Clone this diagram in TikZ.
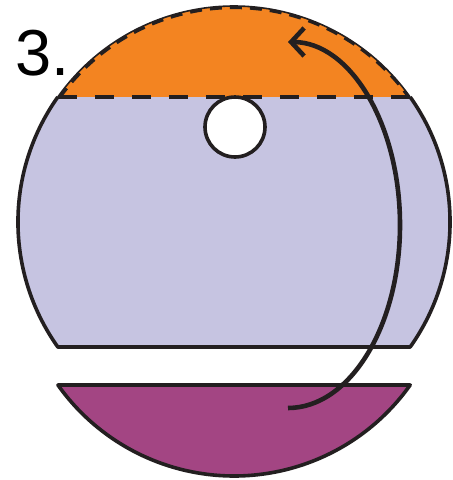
\documentclass[tikz,border=0pt]{standalone}
\usepackage{fontspec}
\newfontfamily\labelfont{Liberation Sans}
\usetikzlibrary{arrows.meta}
\definecolor{capOrange}{HTML}{F38421}
\definecolor{discLilac}{HTML}{C6C4E1}
\definecolor{capPlum}{HTML}{A34583}
\definecolor{inkBlack}{HTML}{231F20}

\begin{document}
\begin{tikzpicture}[x=1pt,y=-1pt,
    rim/.style={draw=inkBlack,line width=3.6pt,line join=round},
    cut/.style={draw=inkBlack,line width=3.5pt,dash pattern=on 19pt off 18pt},
    fold/.style={draw=inkBlack,line width=4.6pt,-{Straight Barb[length=13pt,width=28pt]}}]
    \useasboundingbox (0,0) rectangle (453,480);

    % top cap
    \fill[capOrange] (57.8,97) arc[start angle=-144.64,end angle=-35.36,radius=216] -- cycle;
    \draw[inkBlack,line width=1.6pt] (57.8,97) arc[start angle=-144.64,end angle=-35.36,radius=216];
    \draw[inkBlack,line width=3pt,dash pattern=on 12pt off 8pt] (59.5,98) arc[start angle=-144.64,end angle=-35.36,radius=214.5];

    % middle band
    \fill[discLilac] (410.2,97) arc[start angle=-35.36,end angle=35.36,radius=216]
        -- (57.8,347) arc[start angle=144.64,end angle=215.36,radius=216] -- cycle;
    \draw[rim] (410.2,97) arc[start angle=-35.36,end angle=35.36,radius=216]
        -- (57.8,347) arc[start angle=144.64,end angle=215.36,radius=216];
    \draw[cut] (57.8,97) -- (410.2,97);

    % hole
    \draw[rim,fill=white] (235,127) circle[radius=30];

    % bottom cap
    \draw[rim,fill=capPlum] (410.2,385) arc[start angle=35.36,end angle=144.64,radius=216] -- cycle;

    % fold arrow
    \coordinate (tail) at (288,408);
    \draw[fold] (tail) arc[start angle=90,end angle=-90,x radius=112,y radius=183];

    \node[anchor=base west,inner sep=0pt,font=\labelfont\fontsize{65}{70}\selectfont] (step) at (15.5,75) {3.};
\end{tikzpicture}
\end{document}
